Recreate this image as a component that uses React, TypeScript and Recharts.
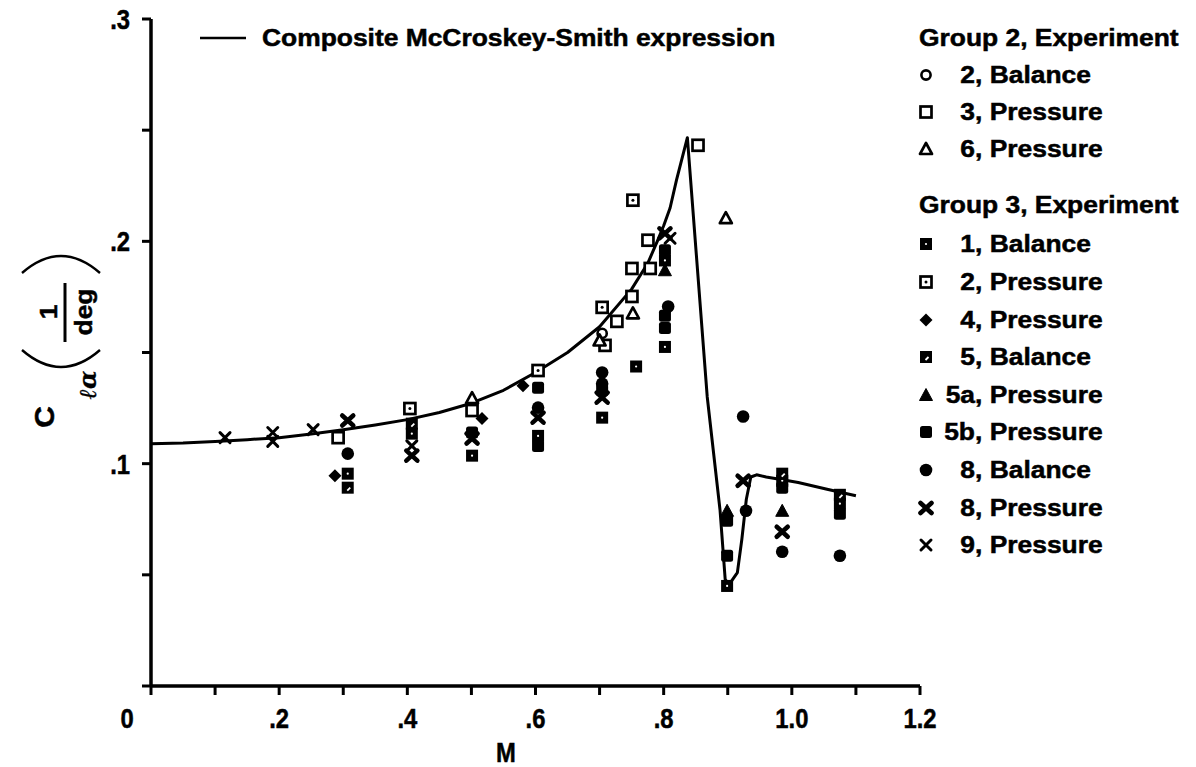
import React from "react";
import { ComposedChart, Scatter, Line, XAxis, YAxis } from "recharts";

// Composite McCroskey-Smith expression, lift-curve slope vs Mach number
const curveM = [0, 0.05, 0.1, 0.15, 0.2, 0.25, 0.3, 0.35, 0.4, 0.45, 0.5, 0.55, 0.6, 0.65, 0.7, 0.75, 0.775, 0.79, 0.8, 0.81, 0.82, 0.837, 0.868, 0.888, 0.896, 0.902, 0.915, 0.922, 0.929, 0.936, 0.945, 0.96, 0.99, 1.01, 1.055, 1.1];
const curveC = [0.109, 0.1093, 0.11, 0.1108, 0.1117, 0.1133, 0.1153, 0.1174, 0.1198, 0.123, 0.1272, 0.133, 0.141, 0.15, 0.1616, 0.1785, 0.19, 0.2, 0.207, 0.215, 0.2275, 0.2466, 0.13, 0.079, 0.048, 0.0456, 0.051, 0.066, 0.084, 0.094, 0.095, 0.094, 0.0925, 0.0915, 0.0885, 0.0856];

// Group 2 experiments
const g2Balance2 = [{ m: 0.704, c: 0.1586 }];
const g2Pressure3 = [
  { m: 0.292, c: 0.1117 }, { m: 0.501, c: 0.1239 }, { m: 0.7085, c: 0.1532 },
  { m: 0.727, c: 0.164 }, { m: 0.7505, c: 0.1752 }, { m: 0.7505, c: 0.1878 },
  { m: 0.779, c: 0.1878 }, { m: 0.7755, c: 0.2005 }, { m: 0.8536, c: 0.2432 },
];
const g2Pressure6 = [
  { m: 0.501, c: 0.1295 }, { m: 0.7, c: 0.1554 }, { m: 0.752, c: 0.1676 }, { m: 0.897, c: 0.2104 },
];

// Group 3 experiments
const g3Balance1 = [
  { m: 0.307, c: 0.0955 }, { m: 0.407, c: 0.1135 }, { m: 0.501, c: 0.1036 },
  { m: 0.604, c: 0.1125 }, { m: 0.704, c: 0.1207 }, { m: 0.757, c: 0.1437 },
  { m: 0.802, c: 0.1914 }, { m: 0.802, c: 0.1525 }, { m: 0.899, c: 0.045 },
  { m: 0.985, c: 0.0923 }, { m: 1.075, c: 0.082 },
];
const g3Pressure2 = [
  { m: 0.404, c: 0.1248 }, { m: 0.604, c: 0.1419 }, { m: 0.704, c: 0.1703 }, { m: 0.752, c: 0.2185 },
];
const g3Pressure4 = [
  { m: 0.287, c: 0.0946 }, { m: 0.5165, c: 0.1203 }, { m: 0.5805, c: 0.1351 },
];
const g3Balance5 = [
  { m: 0.307, c: 0.0892 }, { m: 0.407, c: 0.118 }, { m: 0.985, c: 0.0955 }, { m: 1.075, c: 0.086 },
];
const g3Pressure5a = [
  { m: 0.802, c: 0.187 }, { m: 0.899, c: 0.0788 }, { m: 0.985, c: 0.0788 },
];
const g3Pressure5b = [
  { m: 0.501, c: 0.114 }, { m: 0.604, c: 0.1342 }, { m: 0.604, c: 0.108 },
  { m: 0.704, c: 0.133 }, { m: 0.802, c: 0.196 }, { m: 0.802, c: 0.1665 },
  { m: 0.802, c: 0.161 }, { m: 0.899, c: 0.0743 }, { m: 0.899, c: 0.0586 },
  { m: 0.985, c: 0.0892 }, { m: 1.075, c: 0.0775 },
];
const g3Balance8 = [
  { m: 0.307, c: 0.1045 }, { m: 0.604, c: 0.1252 }, { m: 0.704, c: 0.141 },
  { m: 0.704, c: 0.136 }, { m: 0.807, c: 0.1707 }, { m: 0.924, c: 0.1212 },
  { m: 0.9285, c: 0.0788 }, { m: 0.985, c: 0.0604 }, { m: 1.075, c: 0.0586 },
];
const g3Pressure8 = [
  { m: 0.307, c: 0.1194 }, { m: 0.407, c: 0.1036 }, { m: 0.501, c: 0.1113 },
  { m: 0.604, c: 0.1207 }, { m: 0.704, c: 0.1297 }, { m: 0.802, c: 0.2036 },
  { m: 0.924, c: 0.0923 }, { m: 0.985, c: 0.0694 },
];
const g3Pressure9 = [
  { m: 0.1155, c: 0.1117 }, { m: 0.19, c: 0.114 }, { m: 0.19, c: 0.11 },
  { m: 0.253, c: 0.1153 }, { m: 0.407, c: 0.108 }, { m: 0.81, c: 0.2014 },
];

const xTicks = [0, 0.1, 0.2, 0.3, 0.4, 0.5, 0.6, 0.7, 0.8, 0.9, 1.0, 1.1, 1.2];
const xTickLabels = ["0", "", ".2", "", ".4", "", ".6", "", ".8", "", "1.0", "", "1.2"];
const yTicks = [0, 0.05, 0.1, 0.15, 0.2, 0.25, 0.3];
const yTickLabels = ["", "", ".1", "", ".2", "", ".3"];

const curveTitle = "Composite McCroskey-Smith expression";
const group2Title = "Group 2, Experiment";
const group3Title = "Group 3, Experiment";

type Kind =
  | "openCircle" | "openSquare" | "openTriangle" | "dotSquare" | "centerDotSquare"
  | "diamond" | "notchSquare" | "filledTriangle" | "roundSquare" | "filledCircle"
  | "boldX" | "thinX";

interface SeriesDef { num: string; rest: string; kind: Kind; data: { m: number; c: number }[] }

const group2: SeriesDef[] = [
  { num: "2", rest: ", Balance", kind: "openCircle", data: g2Balance2 },
  { num: "3", rest: ", Pressure", kind: "openSquare", data: g2Pressure3 },
  { num: "6", rest: ", Pressure", kind: "openTriangle", data: g2Pressure6 },
];
const group3: SeriesDef[] = [
  { num: "1", rest: ", Balance", kind: "dotSquare", data: g3Balance1 },
  { num: "2", rest: ", Pressure", kind: "centerDotSquare", data: g3Pressure2 },
  { num: "4", rest: ", Pressure", kind: "diamond", data: g3Pressure4 },
  { num: "5", rest: ", Balance", kind: "notchSquare", data: g3Balance5 },
  { num: "5a", rest: ", Pressure", kind: "filledTriangle", data: g3Pressure5a },
  { num: "5b", rest: ", Pressure", kind: "roundSquare", data: g3Pressure5b },
  { num: "8", rest: ", Balance", kind: "filledCircle", data: g3Balance8 },
  { num: "8", rest: ", Pressure", kind: "boldX", data: g3Pressure8 },
  { num: "9", rest: ", Pressure", kind: "thinX", data: g3Pressure9 },
];

const FONT = '"Liberation Sans", Arial, Helvetica, sans-serif';
// legend text is wide, axis numbers are tall and narrow
const FS = 24;
const SX = 1.1;
const NUM_FS = 28;
const NUM_SX = 0.85;

function Marker({ kind, cx, cy }: { kind: Kind; cx: number; cy: number }) {
  const k = "#000";
  switch (kind) {
    case "openCircle":
      return <circle cx={cx} cy={cy} r={4.6} fill="#fff" stroke={k} strokeWidth={2.6} />;
    case "openSquare":
      return <rect x={cx - 5.5} y={cy - 5.5} width={11} height={11} fill="#fff" stroke={k} strokeWidth={2.7} />;
    case "openTriangle":
      return (
        <polygon
          points={`${cx},${cy - 6} ${cx + 6},${cy + 5} ${cx - 6},${cy + 5}`}
          fill="#fff" stroke={k} strokeWidth={2.7} strokeLinejoin="round"
        />
      );
    case "dotSquare":
      return (
        <g>
          <rect x={cx - 6} y={cy - 6} width={12} height={12} fill={k} />
          <circle cx={cx} cy={cy} r={1.1} fill="#fff" />
        </g>
      );
    case "centerDotSquare":
      return (
        <g>
          <rect x={cx - 5.5} y={cy - 5.5} width={11} height={11} fill="#fff" stroke={k} strokeWidth={2.7} />
          <circle cx={cx} cy={cy} r={1.5} fill={k} />
        </g>
      );
    case "diamond":
      return <polygon points={`${cx},${cy - 6.5} ${cx + 6.5},${cy} ${cx},${cy + 6.5} ${cx - 6.5},${cy}`} fill={k} />;
    case "notchSquare":
      return (
        <g>
          <rect x={cx - 6} y={cy - 6} width={12} height={12} fill={k} />
          <line x1={cx - 0.5} y1={cy + 3} x2={cx + 2.5} y2={cy} stroke="#fff" strokeWidth={1.8} />
        </g>
      );
    case "filledTriangle":
      return <polygon points={`${cx},${cy - 6.5} ${cx + 6.5},${cy + 5.5} ${cx - 6.5},${cy + 5.5}`} fill={k} stroke={k} strokeLinejoin="round" />;
    case "roundSquare":
      return <rect x={cx - 6} y={cy - 6} width={12} height={12} rx={2.5} fill={k} />;
    case "filledCircle":
      return <circle cx={cx} cy={cy} r={6.3} fill={k} />;
    case "boldX":
      return (
        <path
          d={`M${cx - 5.5},${cy - 5} L${cx + 5.5},${cy + 5} M${cx + 5.5},${cy - 5} L${cx - 5.5},${cy + 5}`}
          stroke={k} strokeWidth={4.6} strokeLinecap="round"
        />
      );
    case "thinX":
      return (
        <path
          d={`M${cx - 5},${cy - 5} L${cx + 5},${cy + 5} M${cx + 5},${cy - 5} L${cx - 5},${cy + 5}`}
          stroke={k} strokeWidth={3} strokeLinecap="round"
        />
      );
    default:
      return null;
  }
}

function BoldText({ x, y, anchor = "start", size = FS, sx = SX, children }: any) {
  return (
    <text
      transform={`translate(${x},${y}) scale(${sx},1)`}
      textAnchor={anchor}
      fontSize={size}
      fontWeight="bold"
      fontFamily={FONT}
      fill="#000"
      stroke="#000"
      strokeWidth={0.5}
    >
      {children}
    </text>
  );
}

function XTick(props: any) {
  const { x, y, payload } = props;
  const label = xTickLabels[xTicks.indexOf(payload.value)];
  if (!label) return null;
  const dx = payload.value === 0 ? -24 : 0;
  return <BoldText x={x + dx} y={y + 31} anchor="middle" size={NUM_FS} sx={NUM_SX}>{label}</BoldText>;
}

function YTick(props: any) {
  const { x, y, payload } = props;
  const label = yTickLabels[yTicks.indexOf(payload.value)];
  if (!label) return null;
  return <BoldText x={x - 10} y={y + 10} anchor="end" size={NUM_FS} sx={NUM_SX}>{label}</BoldText>;
}

// legend rows at the right-hand side
const rowY2 = [75, 112, 149];
const rowY3 = [244, 282, 320, 357, 395, 432, 470, 508, 545];

function Overlay() {
  return (
    <svg
      width={1196}
      height={767}
      style={{ position: "absolute", left: 0, top: 0, pointerEvents: "none" }}
    >
      {/* curve legend */}
      <line x1={200} y1={38} x2={246} y2={38} stroke="#000" strokeWidth={2.4} />
      <BoldText x={262} y={46}>{curveTitle}</BoldText>

      <BoldText x={919} y={46}>{group2Title}</BoldText>
      {group2.map((s, i) => (
        <g key={"g2" + i}>
          <Marker kind={s.kind} cx={926} cy={rowY2[i]} />
          <BoldText x={975} y={rowY2[i] + 8} anchor="end">{s.num}</BoldText>
          <BoldText x={975} y={rowY2[i] + 8}>{s.rest}</BoldText>
        </g>
      ))}
      <BoldText x={919} y={213}>{group3Title}</BoldText>
      {group3.map((s, i) => (
        <g key={"g3" + i}>
          <Marker kind={s.kind} cx={926} cy={rowY3[i]} />
          <BoldText x={975} y={rowY3[i] + 8} anchor="end">{s.num}</BoldText>
          <BoldText x={975} y={rowY3[i] + 8}>{s.rest}</BoldText>
        </g>
      ))}

      {/* x-axis title */}
      <BoldText x={506} y={762} anchor="middle" size={NUM_FS} sx={NUM_SX}>M</BoldText>

      {/* y-axis title: C_{l alpha} (1/deg), read bottom to top */}
      <g transform="rotate(-90)" fontFamily={FONT} fontWeight="bold" stroke="#000" strokeWidth={0.5}>
        <text transform={`translate(-417,54) scale(${SX},1)`} textAnchor="middle" fontSize={27}>C</text>
        <text
          transform="translate(-385,96)"
          textAnchor="middle"
          fontSize={24}
          fontStyle="italic"
          fontFamily='"DejaVu Serif", serif'
          strokeWidth={0.3}
        >
          ℓα
        </text>
        <text transform={`translate(-312,57) scale(${SX},1)`} textAnchor="middle" fontSize={FS}>1</text>
        <text transform={`translate(-312,92) scale(${SX},1)`} textAnchor="middle" fontSize={FS}>deg</text>
      </g>
      <line x1={65} y1={283} x2={65} y2={342} stroke="#000" strokeWidth={3} />
      <path d="M22,350 Q61,384 100,350" fill="none" stroke="#000" strokeWidth={2.4} />
      <path d="M22,273 Q61,239 100,273" fill="none" stroke="#000" strokeWidth={2.4} />
    </svg>
  );
}

const curveData = curveM.map((m, i) => ({ m, c: curveC[i] }));
const allSeries = [...group2, ...group3];

export default function App() {
  return (
    <div style={{ position: "absolute", left: 0, top: 0, width: 1196, height: 767, background: "#fff" }}>
      <ComposedChart
        width={1196}
        height={767}
        margin={{ top: 19, right: 276, bottom: 21, left: 91 }}
      >
        <XAxis
          type="number"
          dataKey="m"
          domain={[0, 1.2]}
          ticks={xTicks}
          interval={0}
          height={60}
          tickSize={9}
          axisLine={{ stroke: "#000", strokeWidth: 3.5 }}
          tickLine={{ stroke: "#000", strokeWidth: 3 }}
          tick={<XTick />}
          allowDataOverflow
        />
        <YAxis
          type="number"
          dataKey="c"
          domain={[0, 0.3]}
          ticks={yTicks}
          interval={0}
          width={60}
          tickSize={9}
          axisLine={{ stroke: "#000", strokeWidth: 3.5 }}
          tickLine={{ stroke: "#000", strokeWidth: 3 }}
          tick={<YTick />}
          allowDataOverflow
        />
        <Line
          data={curveData}
          dataKey="c"
          type="linear"
          stroke="#000"
          strokeWidth={3}
          strokeLinejoin="round"
          dot={false}
          activeDot={false}
          isAnimationActive={false}
        />
        {allSeries.map((s, i) => (
          <Scatter
            key={i}
            name={s.num + s.rest}
            data={s.data}
            dataKey="c"
            isAnimationActive={false}
            shape={(p: any) => <Marker kind={s.kind} cx={p.cx} cy={p.cy} />}
          />
        ))}
      </ComposedChart>
      <Overlay />
    </div>
  );
}
